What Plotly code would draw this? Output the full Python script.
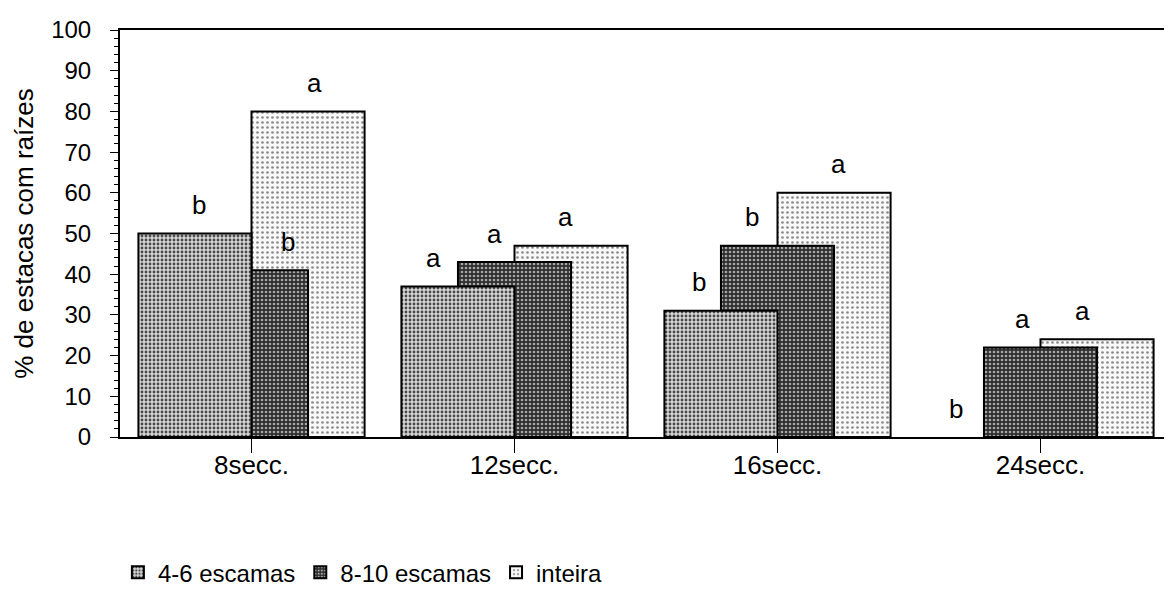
import plotly.graph_objects as go

categories = ["8secc.", "12secc.", "16secc.", "24secc."]
series_names = ["4-6 escamas", "8-10 escamas", "inteira"]
v_4_6 = [50, 37, 31, 0]
v_8_10 = [41, 43, 47, 22]
v_inteira = [80, 47, 60, 24]
lab_4_6 = ["b", "a", "b", "b"]
lab_8_10 = ["b", "a", "b", "a"]
lab_inteira = ["a", "a", "a", "a"]
y_ticks = [0, 10, 20, 30, 40, 50, 60, 70, 80, 90, 100]

FONT = "Liberation Sans, Arial, sans-serif"
W = 0.43
OFF = [-W, -W / 2, 0.0]
styles = [
    dict(bg="#d6d6d6", fg="#4a4a4a", sol=0.4, size=4),
    dict(bg="#2e2e2e", fg="#a8a8a8", sol=0.35, size=4),
    dict(bg="#f8f8f8", fg="#8a8a8a", sol=0.22, size=5),
]
values = [v_4_6, v_8_10, v_inteira]
labels = [lab_4_6, lab_8_10, lab_inteira]
label_dx = [[4, -24, -22, -28], [36, -20, -26, -18], [6, -6, 4, -15]]

fig = go.Figure()
# draw back-to-front: inteira, 8-10, 4-6
for i in [2, 1, 0]:
    s = styles[i]
    fig.add_trace(go.Bar(
        x=categories, y=values[i], name=series_names[i],
        width=W, offset=OFF[i], legendrank=i + 1,
        marker=dict(color=s["bg"],
                    line=dict(color="black", width=[2 if v > 0 else 0 for v in values[i]]),
                    pattern=dict(shape=".", bgcolor=s["bg"], fgcolor=s["fg"],
                                 solidity=s["sol"], size=s["size"], fillmode="replace")),
    ))

for i in range(3):
    for j, cat in enumerate(categories):
        fig.add_annotation(
            x=j + OFF[i] + W / 2, y=values[i][j] + 7, xref="x", yref="y",
            text=labels[i][j], showarrow=False, xshift=label_dx[i][j],
            font=dict(family=FONT, size=26, color="black"),
        )

# page body has an 8px default margin, so the figure is drawn 8px smaller
fig.update_layout(
    width=1164, height=581,
    margin=dict(l=112, r=0, t=22, b=152, autoexpand=False),
    paper_bgcolor="white", plot_bgcolor="white",
    barmode="overlay",
    font=dict(family=FONT, size=24, color="black"),
    showlegend=True,
    legend=dict(orientation="h", x=-0.002, y=-0.333, xanchor="left", yanchor="middle",
                font=dict(family=FONT, size=24, color="black"),
                itemwidth=30, tracegroupgap=0, bgcolor="rgba(0,0,0,0)"),
)
fig.update_xaxes(
    type="category", range=[-0.5, 3.5], automargin=False,
    showline=True, linecolor="black", linewidth=2, mirror=True,
    ticks="outside", ticklen=14, tickcolor="black", tickwidth=1,
    ticklabelstandoff=-10,
    tickfont=dict(family=FONT, size=26, color="black"),
    showgrid=False,
)
fig.update_yaxes(
    range=[0, 100], tickvals=y_ticks, automargin=False,
    showline=True, linecolor="black", linewidth=2, mirror=True,
    ticks="outside", ticklen=8, tickcolor="black", tickwidth=1,
    minor=dict(dtick=2, ticks="outside", ticklen=4, tickcolor="black", tickwidth=1),
    ticklabelstandoff=14,
    tickfont=dict(family=FONT, size=24, color="black"),
    showgrid=False, zeroline=False,
    title=dict(text="% de estacas com raízes", font=dict(family=FONT, size=26, color="black"), standoff=10),
)

fig.write_html("out.html")
